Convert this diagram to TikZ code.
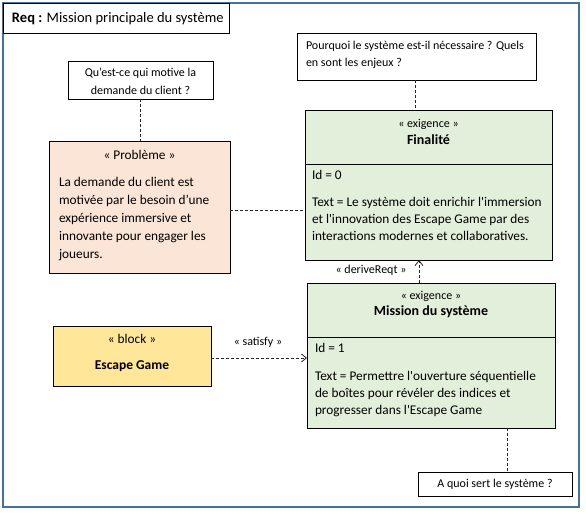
\documentclass[tikz,border=0pt]{standalone}
\usepackage{fontspec}
\setmainfont{Carlito}[Ligatures=TeXOff]
\usetikzlibrary{arrows.meta}
\definecolor{frameblue}{RGB}{65,113,156}
\definecolor{reqgreen}{RGB}{226,239,218}
\definecolor{probpeach}{RGB}{251,229,214}
\definecolor{blockyellow}{RGB}{255,230,153}
\begin{document}
\begin{tikzpicture}[x=1pt,y=-1pt,
  boxshape/.style={draw=black, line width=0.9pt, inner sep=0pt, outer sep=0pt, anchor=north west},
  bodytxt/.style={inner sep=0pt, outer sep=0pt, font=\fontsize{13.3}{17}\selectfont},
  smalltxt/.style={inner sep=0pt, outer sep=0pt, font=\fontsize{12}{17.5}\selectfont},
  nametxt/.style={inner sep=0pt, outer sep=0pt, font=\fontsize{14}{17}\selectfont\bfseries},
  linkline/.style={draw=black!85, line width=0.8pt, dash pattern=on 3pt off 2pt},
  opentip/.style={-{Straight Barb[length=5pt,width=8pt,line width=0.8pt]}}
]
\useasboundingbox (0,0) rectangle (586,521);
% outer frame
\node[draw=frameblue, line width=1.3pt, inner sep=0pt, outer sep=0pt, anchor=north west,
  minimum width=576pt, minimum height=504pt] (frame) at (3,3) {};
% title
\node[boxshape, fill=white, minimum width=226pt, minimum height=30pt] (title) at (3,3) {};
\node[bodytxt, font=\fontsize{14.5}{17}\selectfont, anchor=west] (titletext) at (12,18.5)
  {\textbf{Req :} Mission principale du système};
% question boxes
\node[boxshape, fill=white, minimum width=239pt, minimum height=47pt] (q2) at (297,33) {};
\node[smalltxt, anchor=north west, align=left] (q2text) at (306,41)
  {Pourquoi le système est-il nécessaire ? Quels\\en sont les enjeux ?};
\node[boxshape, fill=white, minimum width=145pt, minimum height=38pt] (q1) at (68,61) {};
\node[smalltxt, anchor=north, align=center] (q1text) at (140.5,68.5)
  {Qu’est-ce qui motive la\\demande du client ?};
\node[boxshape, fill=white, minimum width=154pt, minimum height=24pt] (q3) at (418,472) {};
\node[smalltxt, anchor=center] (q3text) at (495,484) {A quoi sert le système ?};
% Finalite
\node[boxshape, fill=reqgreen, minimum width=247pt, minimum height=54pt] (finhead) at (305,110) {};
\node[boxshape, fill=reqgreen, minimum width=247pt, minimum height=96pt] (finbody) at (305,164) {};
\node[smalltxt, anchor=center] (finst) at (428.5,124) {« exigence »};
\node[nametxt, anchor=center] (finname) at (428.5,140) {Finalité};
\node[bodytxt, anchor=north west, align=left] (fintext) at (312,170.5)
  {Id = 0\\[10pt]Text = Le système doit enrichir l'immersion\\et l'innovation des Escape Game par des\\interactions modernes et collaboratives.};
% Probleme
\node[boxshape, fill=probpeach, minimum width=181pt, minimum height=132pt] (prob) at (49,141) {};
\node[bodytxt, anchor=center] (probst) at (139.5,155) {« Problème »};
\node[bodytxt, font=\fontsize{13.3}{18}\selectfont, anchor=north west, align=left] (probtext) at (59,177)
  {La demande du client est\\motivée par le besoin d’une\\expérience immersive et\\innovante pour engager les\\joueurs.};
% Mission
\node[boxshape, fill=reqgreen, minimum width=248pt, minimum height=54pt] (mishead) at (307,283) {};
\node[boxshape, fill=reqgreen, minimum width=248pt, minimum height=91pt] (misbody) at (307,337) {};
\node[smalltxt, anchor=center] (misst) at (431,296) {« exigence »};
\node[nametxt, anchor=center] (misname) at (431,312) {Mission du système};
\node[bodytxt, anchor=north west, align=left] (mistext) at (315,343)
  {Id = 1\\[11pt]Text = Permettre l'ouverture séquentielle\\de boîtes pour révéler des indices et\\progresser dans l'Escape Game};
% block
\node[boxshape, fill=blockyellow, minimum width=158pt, minimum height=60pt] (block) at (53,326) {};
\node[bodytxt, anchor=center] (blockst) at (132,339) {« block »};
\node[bodytxt, font=\fontsize{13.5}{17}\selectfont\bfseries, anchor=center] (blockname) at (132,366) {Escape Game};
% connectors
\draw[linkline] (q1.south -| q1text.south) -- (q1text.south |- prob.north);
\draw[linkline] ([xshift=-1.5pt]q2.south) -- ([xshift=-1.5pt]q2.south |- finhead.north);
\draw[linkline] ([yshift=-3pt]prob.east) -- ([yshift=-3pt]prob.east -| finbody.west);
\draw[linkline, opentip] ([xshift=-12pt]mishead.north) -- ([xshift=-12pt]mishead.north |- finbody.south);
\node[smalltxt, anchor=center] (derive) at (371,270) {« deriveReqt »};
\draw[linkline, opentip] ([yshift=-2pt]block.east) -- ([yshift=-2pt]block.east -| misbody.west);
\node[smalltxt, anchor=center] (satisfy) at (258,342) {« satisfy »};
\draw[linkline] ([xshift=12pt]q3.north |- misbody.south) -- ([xshift=12pt]q3.north);
\end{tikzpicture}
\end{document}
